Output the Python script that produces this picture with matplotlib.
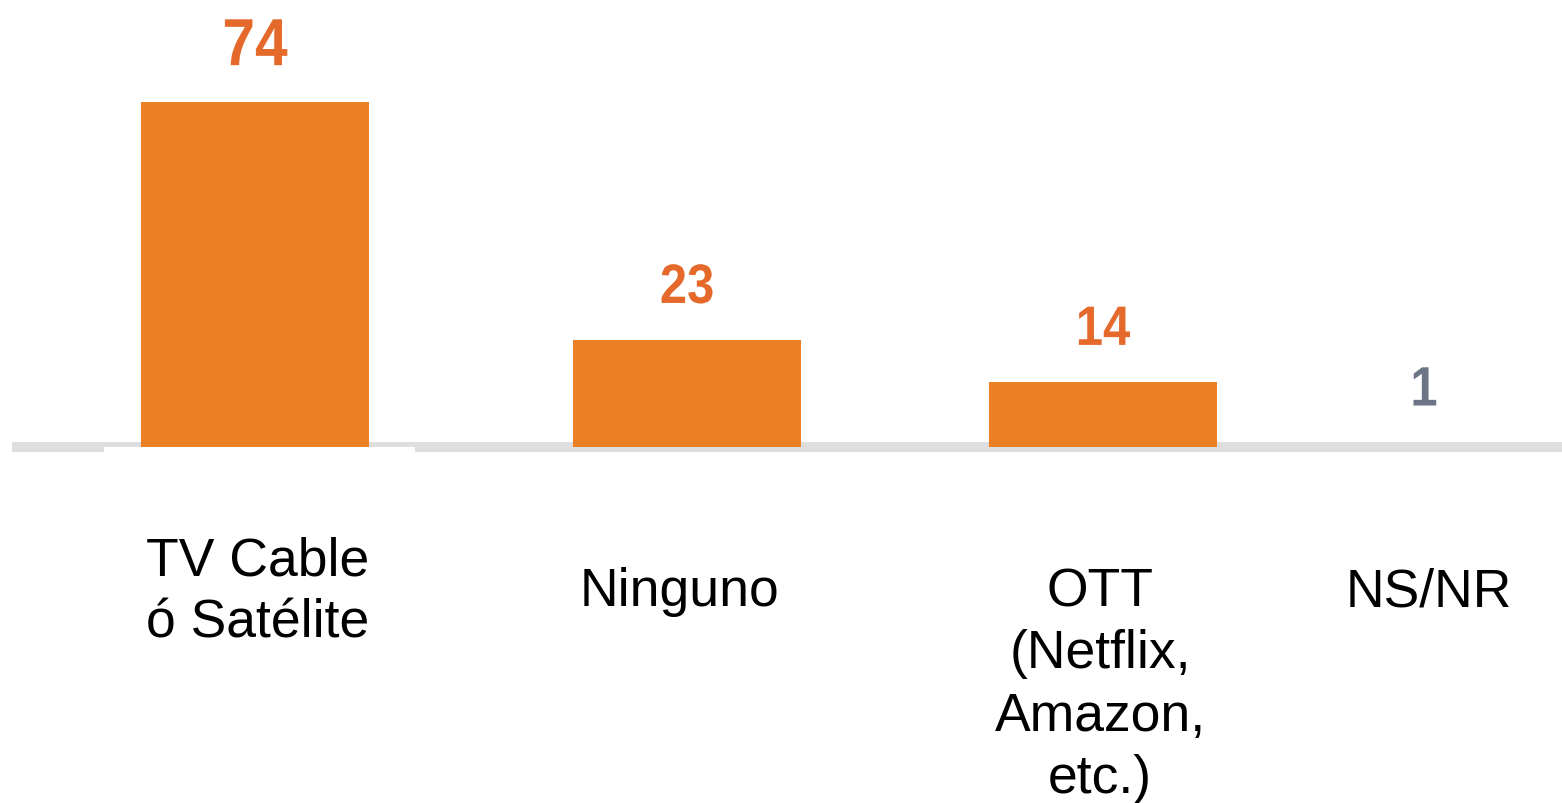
import matplotlib
matplotlib.use("Agg")
import matplotlib.pyplot as plt
from matplotlib import patheffects
from matplotlib.transforms import Affine2D

# data
categories = ["TV Cable\nó Satélite", "Ninguno", "OTT\n(Netflix,\nAmazon,\netc.)", "NS/NR"]
values = [74, 23, 14, 1]
value_labels = ["74", "23", "14", "1"]

# layout (pixel-like x units, spacing is uneven in the original)
positions = [255, 687, 1103, 1424]
label_x = [258, 679, 1100, 1429]
label_tops = [-19.0, -25.6, -25.6, -25.6]
value_sizes = [48, 40, 40, 40]
bar_colors = ["#EB7F24", "#EB7F24", "#EB7F24", "none"]
value_colors = ["#E4692A", "#E4692A", "#E4692A", "#6B7585"]


class Squeeze(patheffects.AbstractPathEffect):
    """draw text narrower (like Arial Narrow) around its own centre"""

    def __init__(self, ax, x, sx=0.88):
        super().__init__()
        self.ax, self.x, self.sx = ax, x, sx

    def draw_path(self, renderer, gc, tpath, affine, rgbFace=None):
        cx = self.ax.transData.transform((self.x, 0))[0]
        squeeze = Affine2D().translate(-cx, 0).scale(self.sx, 1).translate(cx, 0)
        renderer.draw_path(gc, tpath, affine + squeeze, rgbFace)


W, H = 1562, 804
fig = plt.figure(figsize=(W / 100, H / 100), dpi=100)
ax = fig.add_axes([0, 0, 1, 1])
px = 4.662  # pixels per unit
base = 448
ax.set_xlim(0, W)
ax.set_ylim(-(H - base) / px, base / px)
ax.axis("off")

# grey base line with a white notch under the first bar
ax.fill_between([12, W], -1.1, 1.05, color="#DEDEDE", lw=0, zorder=1)
ax.fill_between([104, 415], -1.4, 0, color="white", lw=0, zorder=2)

ax.bar(positions, values, width=228, color=bar_colors, zorder=3)

for x, v, t, c, s in zip(positions, values, value_labels, value_colors, value_sizes):
    ax.text(x, v + 7.9, t, ha="center", va="baseline", fontsize=s,
            fontweight="bold", family="Liberation Sans", color=c,
            path_effects=[Squeeze(ax, x)])

for x, cat, y in zip(label_x, categories, label_tops):
    ax.text(x, y, cat, ha="center", va="top", fontsize=38.5,
            family="Liberation Sans", color="black", linespacing=1.31)

fig.savefig("out.png", dpi=100)
